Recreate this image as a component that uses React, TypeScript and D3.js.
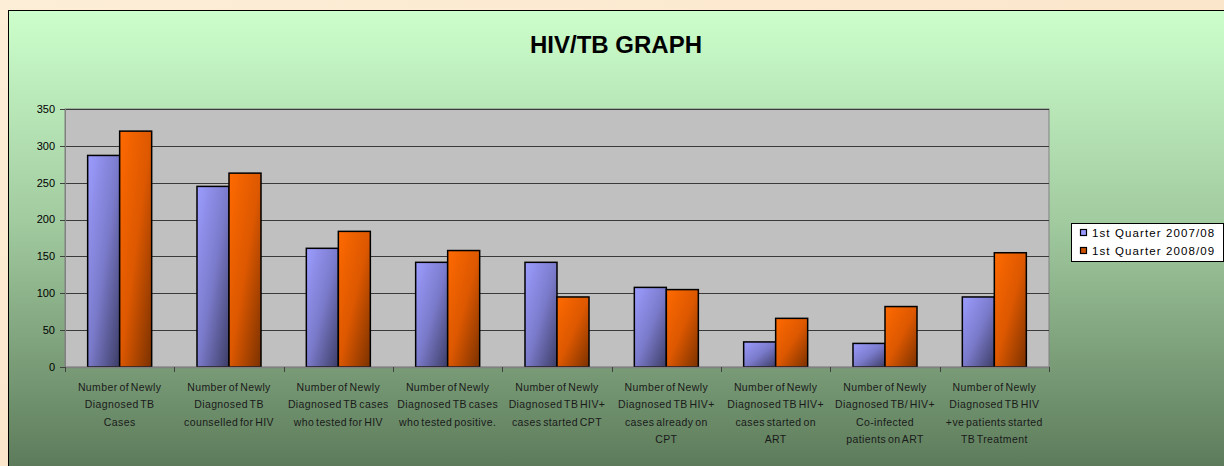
import React from "react";
import * as d3 from "d3";

const categories: string[][] = [
  ["Number of Newly", "Diagnosed TB", "Cases"],
  ["Number of Newly", "Diagnosed TB", "counselled for HIV"],
  ["Number of Newly", "Diagnosed TB cases", "who tested for HIV"],
  ["Number of Newly", "Diagnosed TB cases", "who tested positive."],
  ["Number of Newly", "Diagnosed TB HIV+", "cases started CPT"],
  ["Number of Newly", "Diagnosed TB HIV+", "cases already on", "CPT"],
  ["Number of Newly", "Diagnosed TB HIV+", "cases started on", "ART"],
  ["Number of Newly", "Diagnosed TB/ HIV+", "Co-infected", "patients on ART"],
  ["Number of Newly", "Diagnosed TB HIV", "+ve patients started", "TB Treatment"],
];
const seriesNames = ["1st Quarter 2007/08", "1st Quarter 2008/09"];
const q2007: number[] = [287, 245, 161, 142, 142, 108, 34, 32, 95];
const q2008: number[] = [320, 263, 184, 158, 95, 105, 66, 82, 155];
const yTicks: number[] = [0, 50, 100, 150, 200, 250, 300, 350];
const title = "HIV/TB GRAPH";

const W = 1224;
const H = 466;
const plot = { left: 65, top: 109, right: 1049, bottom: 367 };
const FONT = "Arial, 'Liberation Sans', sans-serif";

export default function App() {
  const idx = categories.map((_, i) => String(i));
  const x = d3.scaleBand<string>().domain(idx).range([plot.left, plot.right]).paddingInner(0).paddingOuter(0);
  const xs = d3.scaleBand<string>().domain(["a", "b"]).range([0, x.bandwidth()]).paddingInner(0).paddingOuter(0.708);
  const y = d3.scaleLinear().domain([0, 350]).range([plot.bottom, plot.top]);
  const series = [
    { key: "a", values: q2007, fill: "url(#gBlue)", sw: "#9999ff" },
    { key: "b", values: q2008, fill: "url(#gOrange)", sw: "#cc5200" },
  ];
  const legendX = 1071;
  const legendY = 223;

  return (
    <svg width={W} height={H} style={{ position: "fixed", left: 0, top: 0 }} fontFamily={FONT}>
      <defs>
        <linearGradient id="gPage" x1="0" y1="0" x2="1" y2="1">
          <stop offset="0" stopColor="#fdeed8" />
          <stop offset="0.5" stopColor="#fbe6cb" />
          <stop offset="1" stopColor="#fdecd4" />
        </linearGradient>
        <linearGradient id="gChart" x1="0" y1="0" x2="0" y2="1">
          <stop offset="0" stopColor="#ccffcc" />
          <stop offset="0.45" stopColor="#a2cba0" />
          <stop offset="1" stopColor="#5a7858" />
        </linearGradient>
        <linearGradient id="gBlue" x1="0" y1="0" x2="1" y2="1">
          <stop offset="0" stopColor="#9c9cff" />
          <stop offset="0.5" stopColor="#7b7bcc" />
          <stop offset="1" stopColor="#3d3d66" />
        </linearGradient>
        <linearGradient id="gOrange" x1="0" y1="0" x2="1" y2="1">
          <stop offset="0" stopColor="#ff6a00" />
          <stop offset="0.5" stopColor="#dd5800" />
          <stop offset="1" stopColor="#7a3100" />
        </linearGradient>
      </defs>
      <rect x={0} y={0} width={W} height={H} fill="url(#gPage)" />
      <rect x={8.5} y={10.5} width={W} height={H} fill="url(#gChart)" stroke="#000" strokeWidth={1} />

      <text x={616} y={52.5} textAnchor="middle" fontSize={24} fontWeight="bold" fill="#000">
        {title}
      </text>

      {/* plot area */}
      <rect x={plot.left} y={plot.top} width={plot.right - plot.left} height={plot.bottom - plot.top} fill="#c0c0c0" stroke="#808080" strokeWidth={1} />
      {yTicks.map((t) => (
        <g key={t}>
          {t > 0 && <line x1={plot.left} x2={plot.right} y1={Math.round(y(t)) + 0.5} y2={Math.round(y(t)) + 0.5} stroke="#3a3a3a" strokeWidth={1} />}
          <line x1={plot.left - 5} x2={plot.left} y1={Math.round(y(t)) + 0.5} y2={Math.round(y(t)) + 0.5} stroke="#404040" strokeWidth={1} />
          <text x={55} y={y(t)} dy="0.35em" textAnchor="end" fontSize={11} fill="#000">
            {t}
          </text>
        </g>
      ))}
      <line x1={plot.left + 0.5} x2={plot.left + 0.5} y1={plot.top} y2={plot.bottom} stroke="#808080" strokeWidth={1} />

      {/* bars */}
      {series.map((s) =>
        s.values.map((v, i) => (
          <rect
            key={s.key + i}
            x={(x(String(i)) as number) + (xs(s.key) as number)}
            y={y(v)}
            width={xs.bandwidth()}
            height={y(0) - y(v)}
            fill={s.fill}
            stroke="#000"
            strokeWidth={1.5}
          />
        ))
      )}

      {/* x axis */}
      <line x1={plot.left} x2={plot.right} y1={plot.bottom + 0.5} y2={plot.bottom + 0.5} stroke="#808080" strokeWidth={1.5} />
      {d3.range(categories.length + 1).map((i) => {
        const xx = Math.round(plot.left + i * x.step()) + 0.5;
        return <line key={i} x1={xx} x2={xx} y1={plot.bottom} y2={plot.bottom + 5} stroke="#404040" strokeWidth={1} />;
      })}
      {categories.map((lines, i) => (
        <text
          key={i}
          x={(x(String(i)) as number) + x.bandwidth() / 2}
          textAnchor="middle"
          fontSize={10.5}
          letterSpacing={0.4}
          wordSpacing={-1.5}
          fill="#1a1a1a"
        >
          {lines.map((ln, j) => (
            <tspan key={j} x={(x(String(i)) as number) + x.bandwidth() / 2} y={390.5 + j * 17.5}>
              {ln}
            </tspan>
          ))}
        </text>
      ))}

      {/* legend */}
      <rect x={legendX + 0.5} y={legendY + 0.5} width={152} height={38} fill="#fff" stroke="#000" strokeWidth={1} />
      {series.map((s, i) => (
        <g key={s.key}>
          <rect x={legendX + 9.5} y={legendY + 6.5 + i * 18} width={6} height={6} fill={s.sw} stroke="#000" strokeWidth={1.2} />
          <text x={legendX + 21} y={legendY + 9.5 + i * 18} dy="0.35em" fontSize={11.5} letterSpacing={1.1} fill="#000">
            {seriesNames[i]}
          </text>
        </g>
      ))}
    </svg>
  );
}
